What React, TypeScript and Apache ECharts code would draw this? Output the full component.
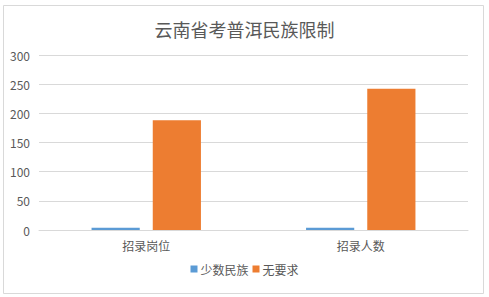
import React, { useEffect, useRef } from "react";
import * as echarts from "echarts";

const categories = ["招录岗位", "招录人数"];
const minority = [4, 4];
const noRequirement = [188, 242];
const seriesNames = ["少数民族", "无要求"];
const yTicks = { min: 0, max: 300, interval: 50 };

export default function App() {
  const ref = useRef<HTMLDivElement>(null);
  useEffect(() => {
    if (!ref.current) return;
    const chart = echarts.init(ref.current, null, { renderer: "svg" });
    const font = "'Microsoft YaHei', 'Noto Sans CJK SC', sans-serif";
    chart.setOption({
      animation: false,
      backgroundColor: "#fff",
      title: {
        text: "云南省考普洱民族限制",
        left: "center",
        top: 15,
        textStyle: { fontSize: 18, fontWeight: "normal", color: "#595959", fontFamily: font },
      },
      graphic: [
        {
          type: "rect",
          shape: { x: 3.5, y: 5.5, width: 480, height: 288 },
          style: { fill: "none", stroke: "#D9D9D9", lineWidth: 1 },
          silent: true,
        },
      ],
      legend: {
        bottom: 17,
        left: "center",
        itemWidth: 7,
        itemHeight: 7,
        itemGap: 4,
        icon: "rect",
        textStyle: { fontSize: 12, color: "#595959", fontFamily: font, padding: [0, 0, 0, -2] },
        data: seriesNames,
      },
      grid: { left: 39, right: 21, top: 55, bottom: 67 },
      xAxis: {
        type: "category",
        data: categories,
        axisLine: { lineStyle: { color: "#D9D9D9" } },
        axisTick: { show: false },
        axisLabel: { color: "#595959", fontSize: 12, margin: 9, fontFamily: font },
      },
      yAxis: {
        type: "value",
        min: yTicks.min,
        max: yTicks.max,
        interval: yTicks.interval,
        axisLine: { show: false },
        axisTick: { show: false },
        splitLine: { lineStyle: { color: "#D9D9D9" } },
        axisLabel: { color: "#595959", fontSize: 12, margin: 9, fontFamily: font },
      },
      series: [
        {
          name: seriesNames[0],
          type: "bar",
          data: minority,
          itemStyle: { color: "#5B9BD5" },
          barGap: "27%",
          barCategoryGap: "49%",
        },
        {
          name: seriesNames[1],
          type: "bar",
          data: noRequirement,
          itemStyle: { color: "#ED7D31" },
          barGap: "27%",
          barCategoryGap: "49%",
        },
      ],
    });
    return () => chart.dispose();
  }, []);
  return (
    <div style={{ position: "absolute", left: 0, top: 0, width: 489, height: 297 }}>
      <div ref={ref} style={{ width: 489, height: 297 }} />
    </div>
  );
}
